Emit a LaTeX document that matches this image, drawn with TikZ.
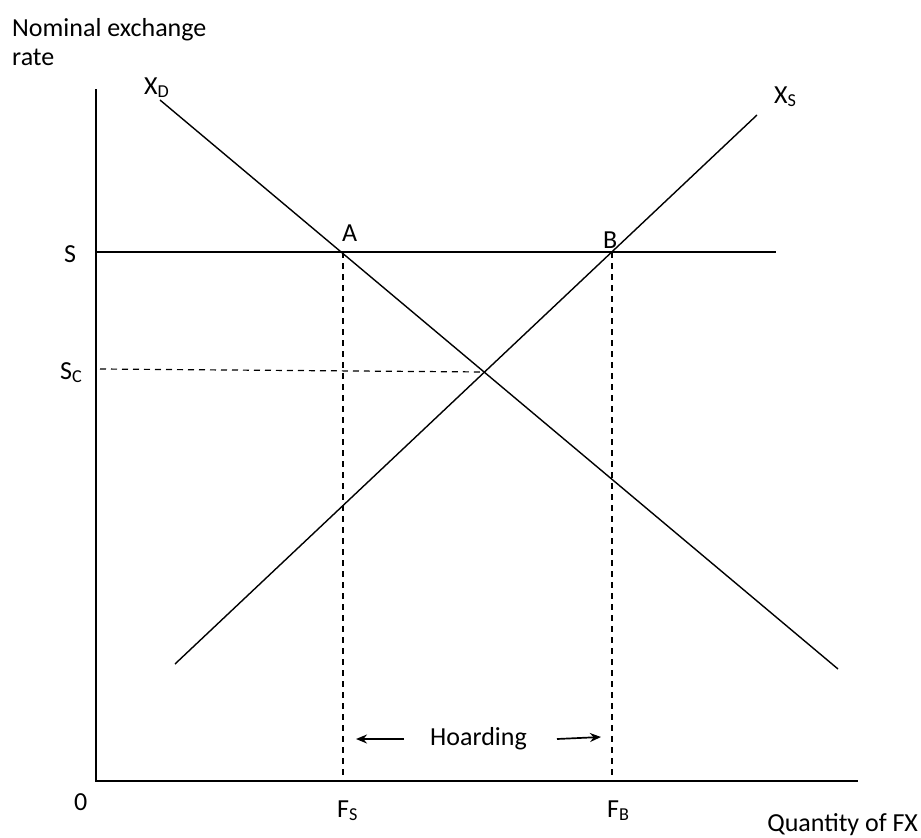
\documentclass[tikz,border=0pt]{standalone}
\usepackage{fontspec}
\setmainfont{Carlito}
\usetikzlibrary{arrows.meta}
\begin{document}
\begin{tikzpicture}[x=1pt,y=-1pt,
  lbl/.style={font=\fontsize{26}{30}\selectfont, inner sep=0pt},
  axis/.style={line width=1.7pt},
  curve/.style={line width=1.4pt},
  guide/.style={line width=1.2pt, dash pattern=on 6pt off 5pt},
  harrow/.style={line width=1.7pt, -{Stealth[length=11pt,width=9pt]}}]
\useasboundingbox (0,0) rectangle (921,838);
% axes
\coordinate (ytop) at (96,89);
\coordinate (orig) at (96,781);
\coordinate (xend) at (858,781);
\draw[axis] (ytop) -- (orig) -- (xend);
% S line
\coordinate (sl) at (96,252);
\coordinate (sr) at (776,252);
\draw[axis] (sl) -- (sr);
% demand and supply
\coordinate (d1) at (160,100);
\coordinate (d2) at (838,669);
\coordinate (s1) at (175,664);
\coordinate (s2) at (757,115);
\draw[curve] (d1) -- (d2);
\draw[curve] (s1) -- (s2);
% points
\coordinate (A) at (343,252);
\coordinate (B) at (612,252);
\coordinate (E) at (485,372);
\coordinate (fs) at (343,781);
\coordinate (fb) at (612,781);
\coordinate (sc) at (100,369);
\draw[guide] (A) -- (fs);
\draw[guide] (B) -- (fb);
\draw[guide] (sc) -- (E);
% labels
\node[lbl, anchor=base west] (t1) at (12,36) {Nominal exchange};
\node[lbl, anchor=base west] (t2) at (12,65) {rate};
\node[lbl, anchor=base west] (xd) at (144,94) {X\textsubscript{D}};
\node[lbl, anchor=base west] (xs) at (774,103) {X\textsubscript{S}};
\node[lbl, anchor=base west] (la) at (342,241) {A};
\node[lbl, anchor=base west] (lb) at (603,248) {B};
\node[lbl, anchor=base west] (ls) at (64,262) {S};
\node[lbl, anchor=base west] (lsc) at (60,379) {S\textsubscript{C}};
\node[lbl, anchor=base west] (l0) at (74,810) {0};
\node[lbl, anchor=base west] (lfs) at (337,817) {F\textsubscript{S}};
\node[lbl, anchor=base west] (lfb) at (607,817) {F\textsubscript{B}};
\node[lbl, anchor=base east] (lq) at (918,831) {Quantity of FX};
\node[lbl, anchor=base west] (hoard) at (430,745) {Hoarding};
\coordinate (al1) at (404,739);
\coordinate (al2) at (356,739);
\coordinate (ar1) at (557,739);
\coordinate (ar2) at (601,737);
\draw[harrow] (al1) -- (al2);
\draw[harrow] (ar1) -- (ar2);
\end{tikzpicture}
\end{document}
